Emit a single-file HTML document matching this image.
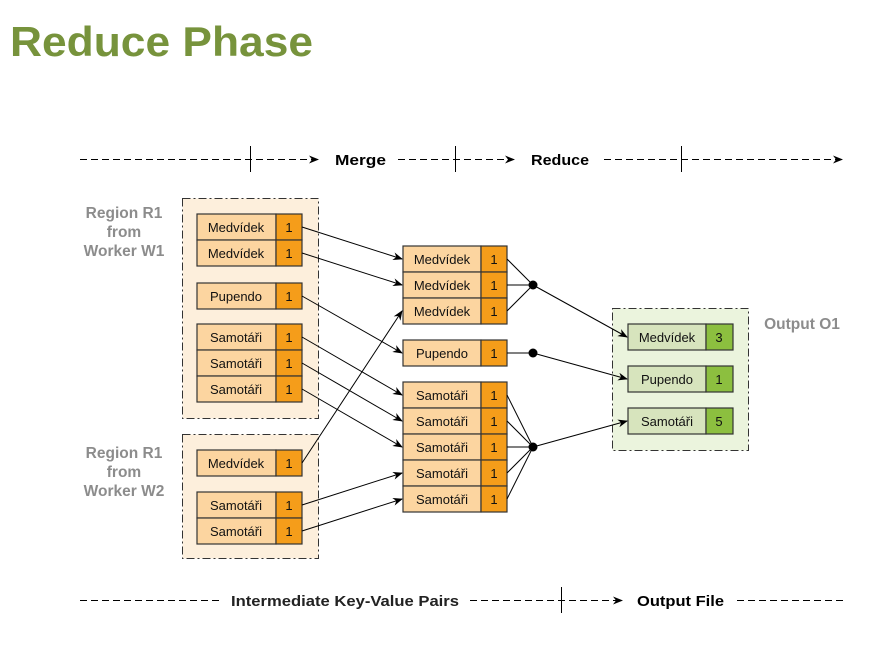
<!DOCTYPE html>
<html><head><meta charset="utf-8"><style>
html,body{margin:0;padding:0;background:#fff;}
svg{display:block;font-family:"Liberation Sans",sans-serif;}
</style></head><body>
<svg width="887" height="648" viewBox="0 0 887 648" xmlns="http://www.w3.org/2000/svg">
<defs>
<marker id="a" markerWidth="10" markerHeight="8" refX="9" refY="4" orient="auto" markerUnits="userSpaceOnUse">
<path d="M0,0 L10,4 L0,8 L3,4 Z" fill="#000"/></marker>
</defs>
<text x="10" y="56" font-size="42" font-weight="bold" fill="#77933c" textLength="303" lengthAdjust="spacingAndGlyphs">Reduce Phase</text>

<g stroke="#000" stroke-width="1" stroke-dasharray="7,4" fill="none">
<line x1="80" y1="159.5" x2="318" y2="159.5" marker-end="url(#a)"/>
<line x1="398" y1="159.5" x2="514" y2="159.5" marker-end="url(#a)"/>
<line x1="604" y1="159.5" x2="842" y2="159.5" marker-end="url(#a)"/>
<line x1="80" y1="600.5" x2="220" y2="600.5"/>
<line x1="470" y1="600.5" x2="622" y2="600.5" marker-end="url(#a)"/>
<line x1="737" y1="600.5" x2="845" y2="600.5"/>
</g>
<g stroke="#000" stroke-width="1">
<line x1="250.5" y1="146" x2="250.5" y2="172"/>
<line x1="455.5" y1="146" x2="455.5" y2="172"/>
<line x1="681.5" y1="146" x2="681.5" y2="172"/>
<line x1="561.5" y1="587" x2="561.5" y2="613"/>
</g>
<g font-size="15" font-weight="bold" fill="#000">
<text x="335" y="165" textLength="51" lengthAdjust="spacingAndGlyphs">Merge</text>
<text x="531" y="165" textLength="58" lengthAdjust="spacingAndGlyphs">Reduce</text>
<text x="231" y="606" fill="#222" textLength="228" lengthAdjust="spacingAndGlyphs">Intermediate Key-Value Pairs</text>
<text x="637" y="606" textLength="87" lengthAdjust="spacingAndGlyphs">Output File</text>
</g>

<g stroke="#333" stroke-width="1" stroke-dasharray="8,3,2,3">
<rect x="182.5" y="198.5" width="136" height="220" fill="#fdefdc"/>
<rect x="182.5" y="434.5" width="136" height="124" fill="#fdefdc"/>
<rect x="612.5" y="308.5" width="136" height="142" fill="#ebf4dd"/>
</g>
<g font-size="15.5" font-weight="bold" fill="#8c8c8c" text-anchor="middle">
<text x="124" y="218">Region R1</text><text x="124" y="237">from</text><text x="124" y="256">Worker W1</text>
<text x="124" y="458">Region R1</text><text x="124" y="477">from</text><text x="124" y="496">Worker W2</text>
<text x="802" y="329">Output O1</text>
</g>

<g stroke="#333" stroke-width="1.2">
<rect x="197" y="214" width="79" height="26" fill="#fcd5a0"/><rect x="276" y="214" width="26" height="26" fill="#f59d1a"/>
<rect x="197" y="240" width="79" height="26" fill="#fcd5a0"/><rect x="276" y="240" width="26" height="26" fill="#f59d1a"/>
<rect x="197" y="283" width="79" height="26" fill="#fcd5a0"/><rect x="276" y="283" width="26" height="26" fill="#f59d1a"/>
<rect x="197" y="324" width="79" height="26" fill="#fcd5a0"/><rect x="276" y="324" width="26" height="26" fill="#f59d1a"/>
<rect x="197" y="350" width="79" height="26" fill="#fcd5a0"/><rect x="276" y="350" width="26" height="26" fill="#f59d1a"/>
<rect x="197" y="376" width="79" height="26" fill="#fcd5a0"/><rect x="276" y="376" width="26" height="26" fill="#f59d1a"/>
<rect x="197" y="450" width="79" height="26" fill="#fcd5a0"/><rect x="276" y="450" width="26" height="26" fill="#f59d1a"/>
<rect x="197" y="492" width="79" height="26" fill="#fcd5a0"/><rect x="276" y="492" width="26" height="26" fill="#f59d1a"/>
<rect x="197" y="518" width="79" height="26" fill="#fcd5a0"/><rect x="276" y="518" width="26" height="26" fill="#f59d1a"/>

<rect x="403" y="246" width="78" height="26" fill="#fcd5a0"/><rect x="481" y="246" width="26" height="26" fill="#f59d1a"/>
<rect x="403" y="272" width="78" height="26" fill="#fcd5a0"/><rect x="481" y="272" width="26" height="26" fill="#f59d1a"/>
<rect x="403" y="298" width="78" height="26" fill="#fcd5a0"/><rect x="481" y="298" width="26" height="26" fill="#f59d1a"/>
<rect x="403" y="340" width="78" height="26" fill="#fcd5a0"/><rect x="481" y="340" width="26" height="26" fill="#f59d1a"/>
<rect x="403" y="382" width="78" height="26" fill="#fcd5a0"/><rect x="481" y="382" width="26" height="26" fill="#f59d1a"/>
<rect x="403" y="408" width="78" height="26" fill="#fcd5a0"/><rect x="481" y="408" width="26" height="26" fill="#f59d1a"/>
<rect x="403" y="434" width="78" height="26" fill="#fcd5a0"/><rect x="481" y="434" width="26" height="26" fill="#f59d1a"/>
<rect x="403" y="460" width="78" height="26" fill="#fcd5a0"/><rect x="481" y="460" width="26" height="26" fill="#f59d1a"/>
<rect x="403" y="486" width="78" height="26" fill="#fcd5a0"/><rect x="481" y="486" width="26" height="26" fill="#f59d1a"/>

<rect x="628" y="324" width="78" height="26" fill="#d7e4bd"/><rect x="706" y="324" width="27" height="26" fill="#8cbf3f"/>
<rect x="628" y="366" width="78" height="26" fill="#d7e4bd"/><rect x="706" y="366" width="27" height="26" fill="#8cbf3f"/>
<rect x="628" y="408" width="78" height="26" fill="#d7e4bd"/><rect x="706" y="408" width="27" height="26" fill="#8cbf3f"/>
</g>

<g font-size="13" text-anchor="middle" fill="#111">
<text x="236" y="232">Medvídek</text><text x="289" y="232">1</text>
<text x="236" y="258">Medvídek</text><text x="289" y="258">1</text>
<text x="236" y="301">Pupendo</text><text x="289" y="301">1</text>
<text x="236" y="342">Samotáři</text><text x="289" y="342">1</text>
<text x="236" y="368">Samotáři</text><text x="289" y="368">1</text>
<text x="236" y="394">Samotáři</text><text x="289" y="394">1</text>
<text x="236" y="468">Medvídek</text><text x="289" y="468">1</text>
<text x="236" y="510">Samotáři</text><text x="289" y="510">1</text>
<text x="236" y="536">Samotáři</text><text x="289" y="536">1</text>

<text x="442" y="264">Medvídek</text><text x="494" y="264">1</text>
<text x="442" y="290">Medvídek</text><text x="494" y="290">1</text>
<text x="442" y="316">Medvídek</text><text x="494" y="316">1</text>
<text x="442" y="358">Pupendo</text><text x="494" y="358">1</text>
<text x="442" y="400">Samotáři</text><text x="494" y="400">1</text>
<text x="442" y="426">Samotáři</text><text x="494" y="426">1</text>
<text x="442" y="452">Samotáři</text><text x="494" y="452">1</text>
<text x="442" y="478">Samotáři</text><text x="494" y="478">1</text>
<text x="442" y="504">Samotáři</text><text x="494" y="504">1</text>

<text x="667" y="342">Medvídek</text><text x="719" y="342">3</text>
<text x="667" y="384">Pupendo</text><text x="719" y="384">1</text>
<text x="667" y="426">Samotáři</text><text x="719" y="426">5</text>
</g>

<g stroke="#000" stroke-width="1" fill="none">
<line x1="302" y1="227" x2="402" y2="259" marker-end="url(#a)"/>
<line x1="302" y1="253" x2="402" y2="285" marker-end="url(#a)"/>
<line x1="302" y1="296" x2="402" y2="353" marker-end="url(#a)"/>
<line x1="302" y1="337" x2="402" y2="395" marker-end="url(#a)"/>
<line x1="302" y1="363" x2="402" y2="421" marker-end="url(#a)"/>
<line x1="302" y1="389" x2="402" y2="447" marker-end="url(#a)"/>
<line x1="302" y1="463" x2="402" y2="311" marker-end="url(#a)"/>
<line x1="302" y1="505" x2="402" y2="473" marker-end="url(#a)"/>
<line x1="302" y1="531" x2="402" y2="499" marker-end="url(#a)"/>

<line x1="507" y1="259" x2="533" y2="285"/>
<line x1="507" y1="285" x2="533" y2="285"/>
<line x1="507" y1="311" x2="533" y2="285"/>
<line x1="507" y1="353" x2="533" y2="353"/>
<line x1="507" y1="395" x2="533" y2="447"/>
<line x1="507" y1="421" x2="533" y2="447"/>
<line x1="507" y1="447" x2="533" y2="447"/>
<line x1="507" y1="473" x2="533" y2="447"/>
<line x1="507" y1="499" x2="533" y2="447"/>

<line x1="533" y1="285" x2="627" y2="337" marker-end="url(#a)"/>
<line x1="533" y1="353" x2="627" y2="379" marker-end="url(#a)"/>
<line x1="533" y1="447" x2="627" y2="421" marker-end="url(#a)"/>
</g>
<g fill="#000">
<circle cx="533" cy="285" r="4.5"/><circle cx="533" cy="353" r="4.5"/><circle cx="533" cy="447" r="4.5"/>
</g>
</svg>
</body></html>
